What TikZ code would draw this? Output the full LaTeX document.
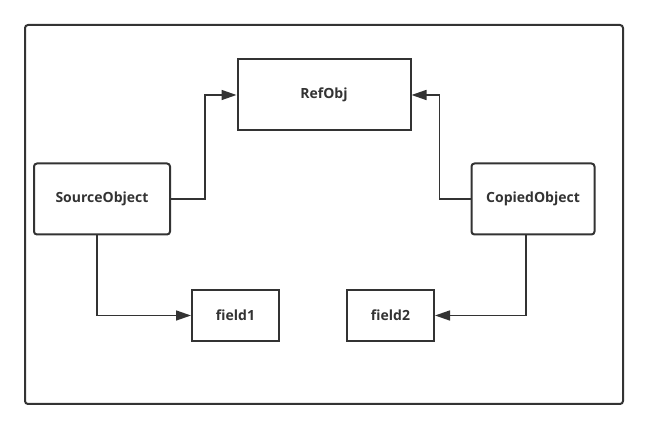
\documentclass[tikz,border=0pt]{standalone}
\usepackage{xcolor}
\usepackage{fontspec}
\setmainfont{Open Sans}
\usepackage{tikz}
\usetikzlibrary{shapes,arrows.meta}
\definecolor{linegray}{HTML}{333333}
\tikzstyle{block} = [rectangle, draw=linegray, line width=2pt, text=linegray,
    font=\fontsize{14}{16}\selectfont\bfseries, inner sep=0pt, minimum height=71pt]
\tikzstyle{roundblock} = [block, rounded corners=3pt]
\tikzstyle{line} = [draw=linegray, line width=1.5pt, -{Triangle[length=15pt,width=10pt]}]

\begin{document}
\begin{tikzpicture}[x=1pt, y=-1pt, node distance=1cm]
    \useasboundingbox (0,0) rectangle (649,430);
    \draw [linegray, line width=2pt, rounded corners=3pt] (25,25) rectangle (623,404);

    % Place nodes
    \node [block, minimum width=173pt] (ref_obj) at (324,95) {RefObj};
    \node [roundblock, minimum width=136pt] (source_obj) at (102,199) {SourceObject};
    \node [roundblock, minimum width=123pt, right of=source_obj, node distance=431pt] (copied_obj) {CopiedObject};
    \node [block, minimum width=87pt, minimum height=51pt] (field_1) at (235.5,315.5) {field1};
    \node [block, minimum width=87pt, minimum height=51pt, right of=field_1, node distance=155pt] (field_2) {field2};

    \path [line] (source_obj.east) -- ++(34,0) |- (ref_obj.west);
    \path [line] (copied_obj.west) -- ++(-31,0) |- (ref_obj.east);
    \path [line] ([xshift=-5pt]source_obj.south) |- (field_1.west);
    \path [line] ([xshift=-7pt]copied_obj.south) |- (field_2.east);

\end{tikzpicture}
\end{document}
